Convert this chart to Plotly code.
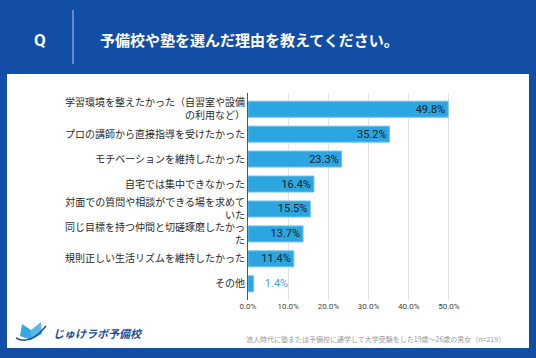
import plotly.graph_objects as go

categories = [
    "学習環境を整えたかった（自習室や設備<br>の利用など）",
    "プロの講師から直接指導を受けたかった",
    "モチベーションを維持したかった",
    "自宅では集中できなかった",
    "対面での質問や相談ができる場を求めて<br>いた",
    "同じ目標を持つ仲間と切磋琢磨したかっ<br>た",
    "規則正しい生活リズムを維持したかった",
    "その他",
]
values = [49.8, 35.2, 23.3, 16.4, 15.5, 13.7, 11.4, 1.4]
tick_vals = [0, 10, 20, 30, 40, 50]
tick_text = ["0.0%", "10.0%", "20.0%", "30.0%", "40.0%", "50.0%"]
title_text = "予備校や塾を選んだ理由を教えてください。"
note_text = "浪人時代に塾または予備校に通学して大学受験をした19歳～26歳の男女（n=219）"
logo_text = "じゅけラボ予備校"

W, H = 536, 358
L, R, T, B = 248, 79, 93, 58
PW, PH = W - L - R, H - T - B

def px(x):
    return (x - L) / PW

def py(y):
    return (H - B - y) / PH

BAR = "#2ba6e1"
positions = ["inside" if v > 5 else "outside" for v in values]
texts = [f"{v:.1f}%" if p == "inside" else f"   {v:.1f}%" for v, p in zip(values, positions)]
colors = ["#1b1b1b" if p == "inside" else "#3aa8e0" for p in positions]

fig = go.Figure(go.Bar(
    y=categories, x=values, orientation="h",
    marker=dict(color=BAR, line=dict(color="#6cc3ec", width=1)),
    width=0.64,
    text=texts, textposition=positions, insidetextanchor="end",
    constraintext="none",
    textfont=dict(size=11, color=colors, family="Roboto, Noto Sans CJK JP"),
    cliponaxis=False, hoverinfo="skip",
))

shapes = [
    dict(type="rect", xref="paper", yref="paper", x0=px(7), x1=px(529), y0=py(348), y1=py(74),
         fillcolor="white", line=dict(width=0), layer="below"),
    dict(type="line", xref="paper", yref="paper", x0=px(73), x1=px(73), y0=py(64), y1=py(10),
         line=dict(color="#b9c8e6", width=1)),
    # logo icon (approximation)
    dict(type="path", xref="paper", yref="paper",
         path=f"M {px(20)},{py(336)} L {px(22)},{py(324)} L {px(31)},{py(330)} L {px(31)},{py(340)} Z",
         fillcolor="#3aa8e0", line=dict(width=0)),
    dict(type="path", xref="paper", yref="paper",
         path=f"M {px(31)},{py(330)} L {px(41)},{py(322)} L {px(42)},{py(334)} L {px(31)},{py(340)} Z",
         fillcolor="#5ab8e8", line=dict(width=0)),
    dict(type="path", xref="paper", yref="paper",
         path=f"M {px(16)},{py(338)} Q {px(30)},{py(346)} {px(46)},{py(326)}",
         line=dict(color="#1c4f9c", width=1.5)),
]

annotations = [
    dict(text="<b>Q</b>", x=px(40), y=py(40), xref="paper", yref="paper", showarrow=False,
         font=dict(size=17, color="white", family="Roboto"), xanchor="center", yanchor="middle"),
    dict(text="<b>" + title_text + "</b>", x=px(98), y=py(40), xref="paper", yref="paper",
         showarrow=False, font=dict(size=15, color="white", family="Noto Sans CJK JP"),
         xanchor="left", yanchor="middle"),
    dict(text=note_text, x=px(507), y=py(339), xref="paper", yref="paper", showarrow=False,
         font=dict(size=7, color="#9a9a9a", family="Noto Sans CJK JP"), xanchor="right", yanchor="middle"),
    dict(text="<b><i>" + logo_text + "</i></b>", x=px(51), y=py(333), xref="paper", yref="paper",
         showarrow=False, font=dict(size=11, color="#1c4f9c", family="Noto Sans CJK JP"),
         xanchor="left", yanchor="middle"),
]

fig.update_layout(
    width=W, height=H,
    margin=dict(l=L, r=R, t=T, b=B, pad=0),
    paper_bgcolor="#134ea6", plot_bgcolor="white",
    font=dict(family="Roboto, Noto Sans CJK JP", color="#333333"),
    showlegend=False,
    shapes=shapes, annotations=annotations,
    bargap=0.36,
)
fig.update_xaxes(range=[0, 52], tickvals=tick_vals, ticktext=tick_text,
                 tickfont=dict(size=8, color="#444444"), showgrid=True, gridcolor="#e2e2e2",
                 gridwidth=1, zeroline=False, showline=False, fixedrange=True)
fig.update_yaxes(autorange=False, range=[7.65, -0.65], categoryorder="array", categoryarray=categories,
                 tickfont=dict(size=10, color="#2a2a2a", family="Noto Sans CJK JP"),
                 showline=True, linecolor="#555555", linewidth=1, ticks="", showgrid=False,
                 fixedrange=True)

fig.write_html("out.html", config={"displayModeBar": False},
               post_script="document.body.style.margin='0';document.body.style.overflow='hidden';")
